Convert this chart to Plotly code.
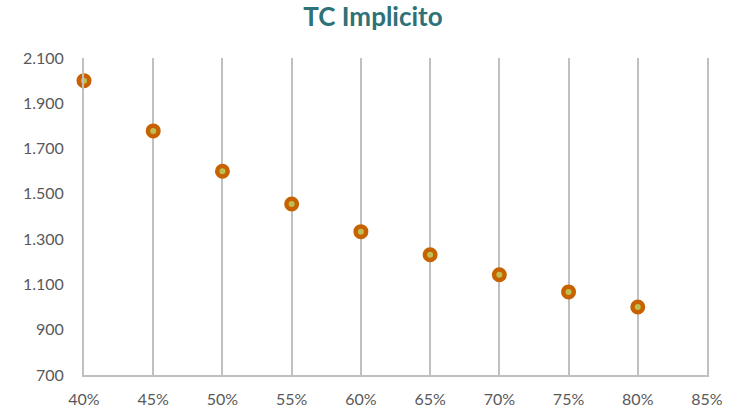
import plotly.graph_objects as go

x_vals = [0.40, 0.45, 0.50, 0.55, 0.60, 0.65, 0.70, 0.75, 0.80]
y_vals = [2000, 1778, 1600, 1455, 1333, 1231, 1143, 1067, 1000]
title_text = "TC Implicito"

fig = go.Figure()
fig.add_trace(go.Scatter(
    x=x_vals, y=y_vals, mode="markers",
    marker=dict(size=10.5, color="#BDBF50", line=dict(color="#C86200", width=4.5)),
    showlegend=False, cliponaxis=False,
))

fig.update_layout(
    width=746, height=410,
    margin=dict(l=84, r=39, t=58, b=35),
    paper_bgcolor="white", plot_bgcolor="white",
    separators=",.",
    title=dict(text="<b>" + title_text + "</b>", x=0.5, xanchor="center", y=0.958, yanchor="middle",
               font=dict(family="Lato", size=26, color="#2E7177")),
    font=dict(family="Lato", size=16, color="#595959"),
)
fig.update_xaxes(
    range=[0.40, 0.85], tickmode="linear", tick0=0.40, dtick=0.05, tickformat=".0%",
    showgrid=True, gridcolor="#C0C0C0", gridwidth=2,
    showline=True, linecolor="#C0C0C0", linewidth=2,
    zeroline=False, ticks="", ticklabelstandoff=9, automargin=False,
)
fig.update_yaxes(
    range=[700, 2100], tickmode="linear", tick0=700, dtick=200, tickformat=",",
    showgrid=False, zeroline=False, showline=True, linecolor="#C0C0C0", linewidth=2,
    mirror=True, ticks="", ticklabelstandoff=15, automargin=False,
)

fig.write_html("out.html")
